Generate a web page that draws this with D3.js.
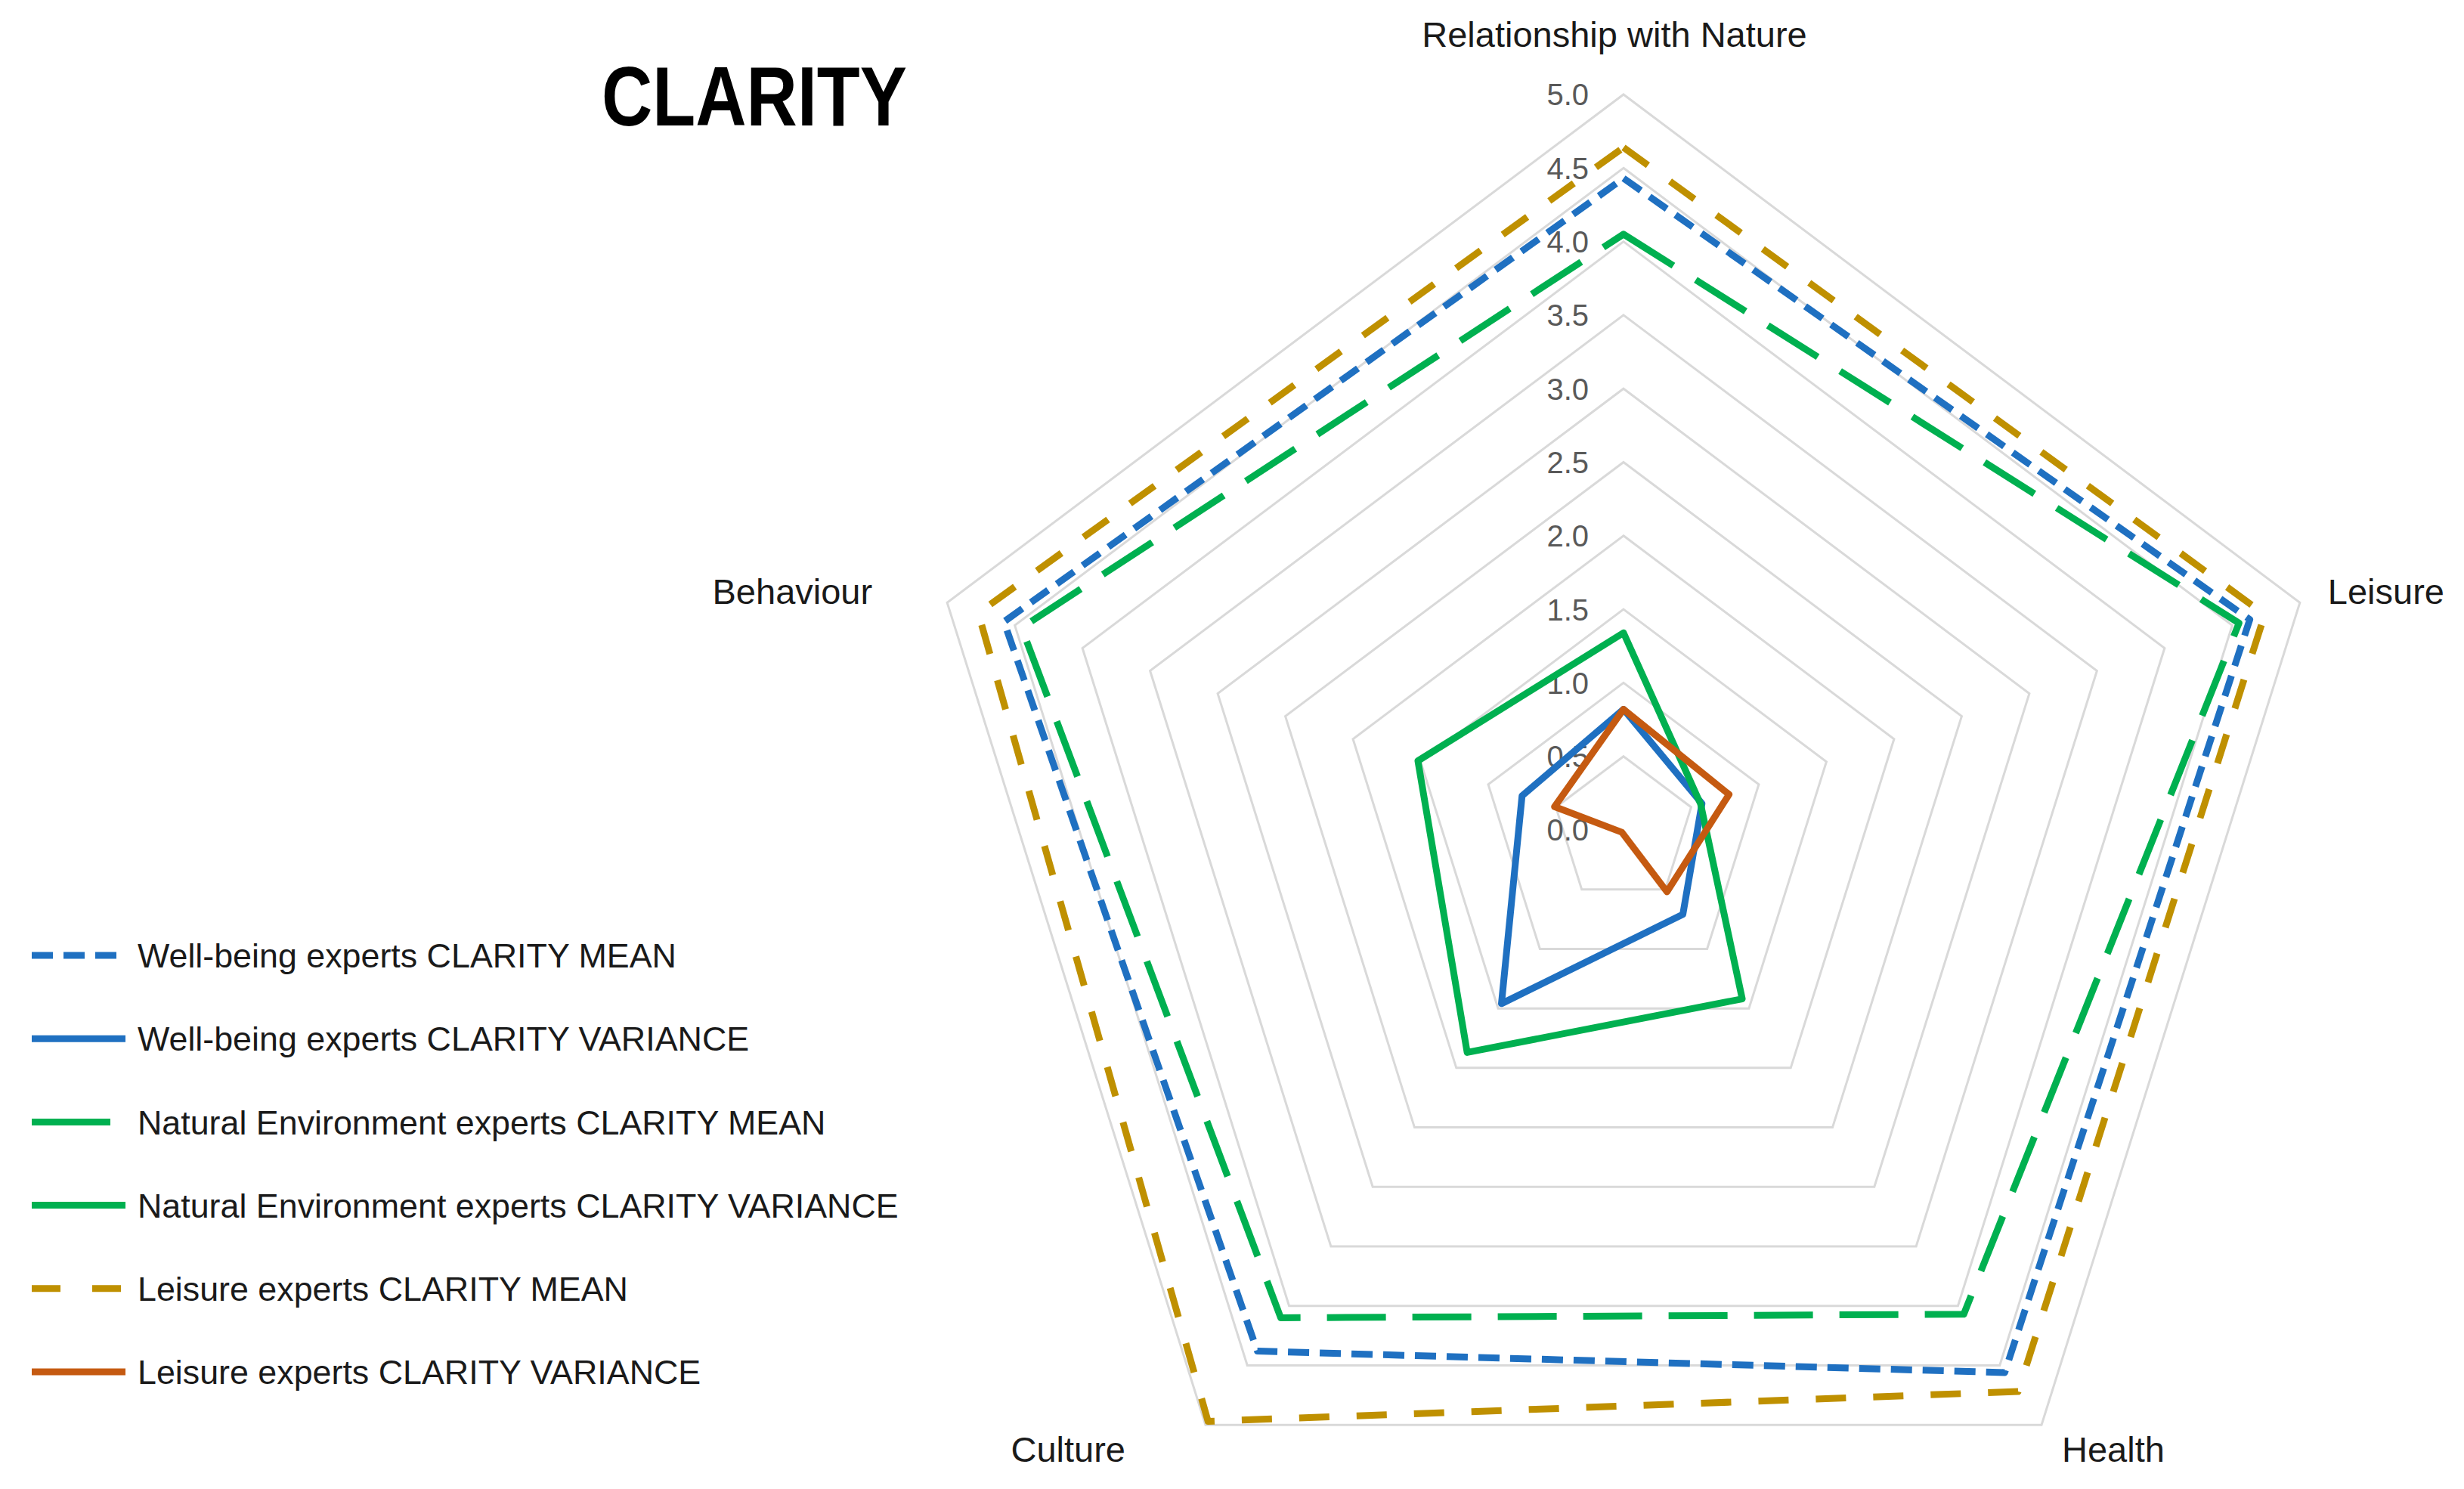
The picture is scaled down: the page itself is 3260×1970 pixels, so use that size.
<!DOCTYPE html>
<html>
<head>
<meta charset="utf-8">
<script src="https://cdn.jsdelivr.net/npm/d3@7"></script>
<style>
    body { margin: 0; background: #fff; }
    text { font-family: 'Liberation Sans', Arial, sans-serif; }
</style>
</head>
<body>
<div id="chartContainer"></div>
<script>
const categories = ['Relationship with Nature', 'Leisure', 'Health', 'Culture', 'Behaviour'];

const wellbeingMean = [4.43, 4.63, 4.56, 4.38, 4.58];
const wellbeingVariance = [0.82, 0.58, 0.71, 1.46, 0.75];
const naturalMean = [4.05, 4.55, 4.07, 4.10, 4.45];
const naturalVariance = [1.34, 0.57, 1.42, 1.87, 1.52];
const leisureMean = [4.64, 4.74, 4.72, 4.97, 4.77];
const leisureVariance = [0.82, 0.78, 0.52, 0.02, 0.51];

const seriesNames = [
    'Well-being experts CLARITY MEAN',
    'Well-being experts CLARITY VARIANCE',
    'Natural Environment experts CLARITY MEAN',
    'Natural Environment experts CLARITY VARIANCE',
    'Leisure experts CLARITY MEAN',
    'Leisure experts CLARITY VARIANCE',
];

const tickValues = [0, 0.5, 1, 1.5, 2, 2.5, 3, 3.5, 4, 4.5, 5];
const tickLabels = ['0.0', '0.5', '1.0', '1.5', '2.0', '2.5', '3.0', '3.5', '4.0', '4.5', '5.0'];

const svgWidth = 3260;
const svgHeight = 1970;
const center = { x: 2148, y: 1098 };
const squeezeX = 0.967; // picture is a bit narrower than tall

const seriesStyles = [
    { color: '#1f70c1', dash: '28,14', legendDash: '28,14' },
    { color: '#1f70c1', dash: null, legendDash: null },
    { color: '#00b050', dash: '78,35', legendDash: '104,40' },
    { color: '#00b050', dash: null, legendDash: null },
    { color: '#bf9000', dash: '40,36', legendDash: '38,42' },
    { color: '#c55a11', dash: null, legendDash: null },
];

const series = [wellbeingMean, wellbeingVariance, naturalMean, naturalVariance, leisureMean, leisureVariance]
    .map((values, i) => ({ name: seriesNames[i], values: values, ...seriesStyles[i] }));

const svg = d3.select('#chartContainer').append('svg').attr('width', svgWidth).attr('height', svgHeight);

const rScale = d3.scaleLinear().domain([0, 5]).range([0, 973]);
const angle = d3.scalePoint().domain(categories).range([0, 360 * 4 / 5]);

function px(cat, v) {
    const a = (90 - angle(cat)) * Math.PI / 180;
    return center.x + rScale(v) * Math.cos(a) * squeezeX;
}
function py(cat, v) {
    const a = (90 - angle(cat)) * Math.PI / 180;
    return center.y - rScale(v) * Math.sin(a);
}

const radarLine = d3.line()
    .x((d) => px(d.cat, d.v))
    .y((d) => py(d.cat, d.v))
    .curve(d3.curveLinearClosed);

// grid rings
svg.append('g')
    .selectAll('path')
    .data(tickValues.slice(1))
    .enter()
    .append('path')
    .attr('d', (t) => radarLine(categories.map((c) => ({ cat: c, v: t }))))
    .attr('fill', 'none')
    .attr('stroke', '#d9d9d9')
    .attr('stroke-width', 3);

// tick labels
svg.append('g')
    .selectAll('text')
    .data(tickValues)
    .enter()
    .append('text')
    .attr('x', center.x - 46)
    .attr('y', (t) => py(categories[0], t))
    .attr('dy', '0.36em')
    .attr('text-anchor', 'end')
    .attr('fill', '#595959')
    .attr('font-size', 40)
    .text((t, i) => tickLabels[i]);

// series
svg.append('g')
    .selectAll('path')
    .data(series)
    .enter()
    .append('path')
    .attr('d', (s) => radarLine(categories.map((c, i) => ({ cat: c, v: s.values[i] }))))
    .attr('fill', 'none')
    .attr('stroke', (s) => s.color)
    .attr('stroke-width', 9)
    .attr('stroke-linejoin', 'round')
    .attr('stroke-dasharray', (s) => s.dash);

// category labels, placed off the outer ring
const labelPlace = [
    { dx: -12, dy: -80, anchor: 'middle' },
    { dx: 37, dy: -15, anchor: 'start' },
    { dx: 27, dy: 32, anchor: 'start' },
    { dx: -106, dy: 32, anchor: 'end' },
    { dx: -99, dy: -15, anchor: 'end' },
];

svg.append('g')
    .selectAll('text')
    .data(categories)
    .enter()
    .append('text')
    .attr('x', (c, i) => px(c, 5) + labelPlace[i].dx)
    .attr('y', (c, i) => py(c, 5) + labelPlace[i].dy)
    .attr('dy', '0.36em')
    .attr('text-anchor', (c, i) => labelPlace[i].anchor)
    .attr('fill', '#1a1a1a')
    .attr('font-size', 47)
    .text((c) => c);

// title
svg.append('text')
    .attr('x', 796)
    .attr('y', 166)
    .attr('font-size', 112)
    .attr('font-weight', 'bold')
    .attr('fill', '#000')
    .attr('textLength', 404)
    .attr('lengthAdjust', 'spacingAndGlyphs')
    .text('CLARITY');

// legend
const legend = svg.append('g').attr('transform', 'translate(42, 1264)');
const rows = legend.selectAll('g')
    .data(series)
    .enter()
    .append('g')
    .attr('transform', (s, i) => `translate(0, ${i * 110.2})`);

rows.append('line')
    .attr('x1', 0)
    .attr('x2', 124)
    .attr('stroke', (s) => s.color)
    .attr('stroke-width', 9)
    .attr('stroke-dasharray', (s) => s.legendDash);

rows.append('text')
    .attr('x', 140)
    .attr('dy', '0.36em')
    .attr('fill', '#1a1a1a')
    .attr('font-size', 44.8)
    .text((s) => s.name);
</script>
</body>
</html>
